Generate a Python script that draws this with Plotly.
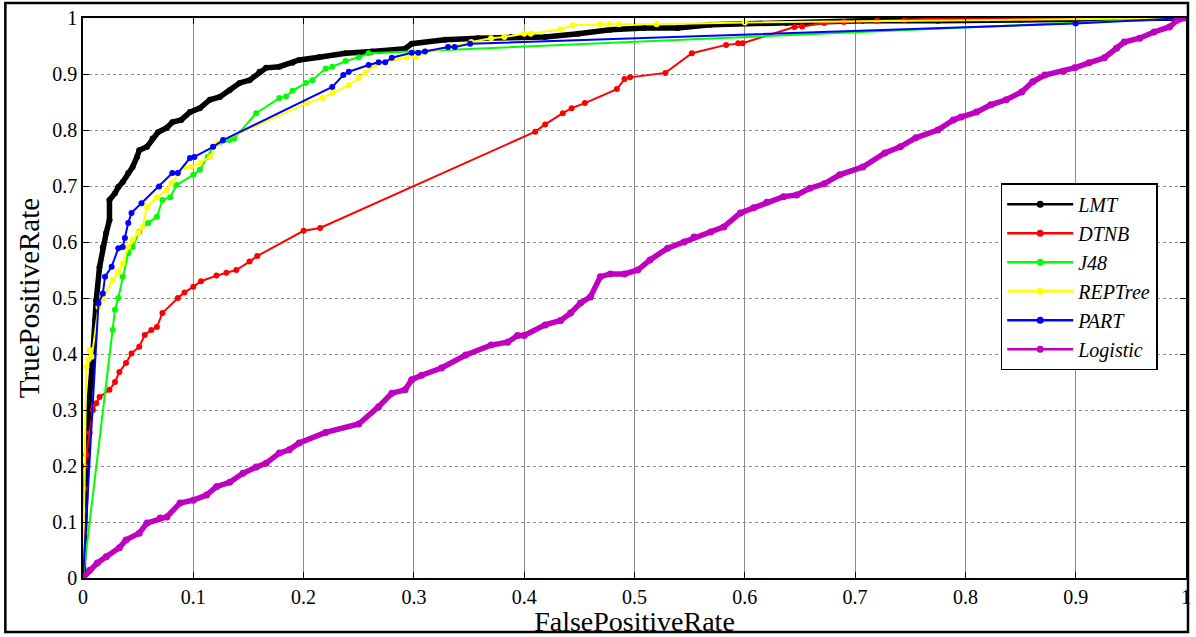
import plotly.graph_objects as go

# ---------------- data ----------------
lmt_fpr = [0.0, 0.002, 0.005, 0.008, 0.009, 0.011, 0.012, 0.015, 0.018, 0.021, 0.024, 0.024, 0.029, 0.032,
           0.036, 0.041, 0.045, 0.049, 0.051, 0.058, 0.063, 0.068, 0.076, 0.081, 0.089, 0.097, 0.106,
           0.115, 0.124, 0.133, 0.142, 0.151, 0.16, 0.166, 0.178, 0.19, 0.196, 0.214, 0.238, 0.262,
           0.292, 0.298, 0.328, 0.358, 0.388, 0.419, 0.449, 0.478, 0.509, 0.539, 0.569, 0.638, 0.707,
           0.775, 0.85, 0.93, 1.0]
lmt_tpr = [0.0, 0.15, 0.3, 0.371, 0.407, 0.461, 0.496, 0.555, 0.591, 0.616, 0.639, 0.675, 0.687, 0.698,
           0.707, 0.723, 0.734, 0.752, 0.764, 0.77, 0.785, 0.796, 0.804, 0.814, 0.818, 0.832, 0.839,
           0.854, 0.859, 0.871, 0.884, 0.889, 0.904, 0.911, 0.913, 0.92, 0.925, 0.93, 0.937, 0.94,
           0.945, 0.954, 0.961, 0.964, 0.966, 0.966, 0.972, 0.979, 0.982, 0.982, 0.988, 0.991, 0.995,
           0.995, 0.997, 1.0, 1.0]

dtnb_fpr = [0.0, 0.0, 0.001, 0.001, 0.001, 0.002, 0.003, 0.006, 0.009, 0.012, 0.015, 0.024, 0.029, 0.033,
            0.039, 0.044, 0.051, 0.056, 0.062, 0.067, 0.072, 0.086, 0.092, 0.1, 0.107, 0.121, 0.13,
            0.139, 0.151, 0.158, 0.2, 0.215, 0.41, 0.419, 0.435, 0.443, 0.455, 0.484, 0.491, 0.496,
            0.528, 0.552, 0.583, 0.594, 0.598, 0.645, 0.652, 0.672, 0.69, 0.72, 0.745, 0.78, 0.82,
            0.86, 0.9, 0.94, 0.97, 1.0]
dtnb_tpr = [0.0, 0.04, 0.08, 0.12, 0.16, 0.2, 0.22, 0.259, 0.3, 0.312, 0.323, 0.336, 0.35, 0.368,
            0.384, 0.401, 0.413, 0.434, 0.443, 0.448, 0.473, 0.5, 0.51, 0.52, 0.53, 0.54, 0.545,
            0.55, 0.565, 0.575, 0.62, 0.625, 0.797, 0.81, 0.83, 0.839, 0.848, 0.873, 0.891, 0.894,
            0.902, 0.937, 0.952, 0.955, 0.955, 0.984, 0.985, 0.991, 0.993, 0.995, 0.997, 0.999, 0.999,
            1.0, 1.0, 1.0, 1.0, 1.0]

j48_fpr = [0.0, 0.027, 0.029, 0.032, 0.036, 0.041, 0.045, 0.051, 0.059, 0.067, 0.072, 0.079, 0.085,
           0.1, 0.106, 0.113, 0.118, 0.133, 0.137, 0.157, 0.178, 0.184, 0.19, 0.202, 0.208, 0.22,
           0.226, 0.238, 0.25, 0.259, 1.0]
j48_tpr = [0.0, 0.443, 0.479, 0.5, 0.538, 0.58, 0.591, 0.618, 0.634, 0.645, 0.675, 0.68, 0.702,
           0.72, 0.729, 0.752, 0.77, 0.782, 0.785, 0.83, 0.857, 0.86, 0.87, 0.884, 0.889, 0.91,
           0.913, 0.923, 0.93, 0.937, 1.0]

rep_fpr = [0.0, 0.003, 0.005, 0.006, 0.008, 0.014, 0.018, 0.027, 0.032, 0.036, 0.041, 0.045, 0.05,
           0.054, 0.058, 0.067, 0.076, 0.08, 0.092, 0.098, 0.106, 0.115, 0.122, 0.203, 0.217, 0.226,
           0.241, 0.25, 0.256, 0.265, 0.293, 0.302, 0.307, 0.334, 0.352, 0.37, 0.382, 0.4, 0.406,
           0.433, 0.444, 0.469, 0.477, 0.486, 0.52, 0.6, 1.0]
rep_tpr = [0.0, 0.377, 0.39, 0.407, 0.395, 0.484, 0.5, 0.532, 0.547, 0.562, 0.591, 0.604, 0.616,
           0.627, 0.663, 0.68, 0.693, 0.705, 0.734, 0.734, 0.741, 0.752, 0.777, 0.848, 0.857, 0.866,
           0.88, 0.893, 0.902, 0.916, 0.93, 0.93, 0.937, 0.948, 0.957, 0.964, 0.966, 0.972, 0.972,
           0.98, 0.987, 0.989, 0.989, 0.989, 0.989, 0.992, 1.0]

part_fpr = [0.0, 0.014, 0.018, 0.02, 0.026, 0.032, 0.036, 0.038, 0.041, 0.044, 0.053, 0.069, 0.081,
            0.086, 0.097, 0.101, 0.118, 0.127, 0.226, 0.236, 0.241, 0.259, 0.268, 0.274, 0.28, 0.298,
            0.304, 0.31, 0.331, 0.337, 0.351, 0.9, 1.0]
part_tpr = [0.0, 0.49, 0.508, 0.538, 0.556, 0.589, 0.591, 0.607, 0.634, 0.652, 0.669, 0.699, 0.723,
            0.723, 0.75, 0.752, 0.77, 0.782, 0.877, 0.898, 0.904, 0.916, 0.921, 0.921, 0.929, 0.938,
            0.938, 0.94, 0.948, 0.948, 0.954, 0.99, 1.0]

log_fpr = [0.0, 0.006, 0.013, 0.021, 0.033, 0.039, 0.051, 0.058, 0.07, 0.076, 0.088, 0.1, 0.112, 0.121,
           0.133, 0.145, 0.157, 0.166, 0.178, 0.187, 0.196, 0.22, 0.25, 0.268, 0.28, 0.292, 0.298,
           0.307, 0.325, 0.347, 0.37, 0.385, 0.394, 0.4, 0.419, 0.433, 0.442, 0.451, 0.46, 0.469,
           0.478, 0.491, 0.503, 0.514, 0.53, 0.545, 0.554, 0.569, 0.581, 0.596, 0.608, 0.62, 0.635,
           0.647, 0.659, 0.672, 0.686, 0.707, 0.727, 0.741, 0.755, 0.775, 0.789, 0.796, 0.81, 0.823,
           0.837, 0.851, 0.861, 0.872, 0.889, 0.899, 0.912, 0.926, 0.937, 0.944, 0.958, 0.971,
           0.985, 0.992, 1.0]
log_tpr = [0.0, 0.014, 0.027, 0.038, 0.054, 0.068, 0.08, 0.098, 0.107, 0.109, 0.134, 0.139, 0.148, 0.163,
           0.171, 0.187, 0.198, 0.205, 0.223, 0.229, 0.241, 0.26, 0.275, 0.306, 0.33, 0.336, 0.354,
           0.362, 0.375, 0.398, 0.416, 0.421, 0.433, 0.433, 0.452, 0.46, 0.473, 0.491, 0.502, 0.538,
           0.543, 0.543, 0.55, 0.568, 0.589, 0.6, 0.609, 0.618, 0.627, 0.652, 0.661, 0.671, 0.681,
           0.684, 0.696, 0.704, 0.72, 0.734, 0.759, 0.77, 0.786, 0.8, 0.818, 0.823, 0.832, 0.845,
           0.854, 0.868, 0.886, 0.898, 0.905, 0.911, 0.92, 0.929, 0.946, 0.957, 0.964, 0.975,
           0.984, 0.996, 1.0]

tick_vals = [0, 0.1, 0.2, 0.3, 0.4, 0.5, 0.6, 0.7, 0.8, 0.9, 1.0]
tick_text = ["0", "0.1", "0.2", "0.3", "0.4", "0.5", "0.6", "0.7", "0.8", "0.9", "1"]

series = [
    ("LMT", lmt_fpr, lmt_tpr, "#000000", 5.5, 6),
    ("DTNB", dtnb_fpr, dtnb_tpr, "#ff0000", 2, 6),
    ("J48", j48_fpr, j48_tpr, "#00ff00", 2, 6),
    ("REPTree", rep_fpr, rep_tpr, "#ffff00", 2, 6),
    ("PART", part_fpr, part_tpr, "#0000ff", 2, 6),
    ("Logistic", log_fpr, log_tpr, "#bf00bf", 5.5, 7),
]

FONT = "Liberation Serif"
fig = go.Figure()
for name, xs, ys, col, lw, ms in series:
    fig.add_trace(go.Scatter(
        x=xs, y=ys, name=name, mode="lines+markers", showlegend=False, legendgroup=name,
        line=dict(color=col, width=lw),
        marker=dict(color=col, size=ms, symbol="circle"),
    ))
# legend entries (thin line + dot, as in the reference legend)
for name, xs, ys, col, lw, ms in series:
    fig.add_trace(go.Scatter(
        x=[None], y=[None], name=name, mode="lines+markers", legendgroup=name,
        line=dict(color=col, width=2.5),
        marker=dict(color=col, size=7, symbol="circle"),
    ))

fig.update_layout(
    width=1196, height=637,
    margin=dict(l=83, r=5, t=18, b=59),
    paper_bgcolor="white", plot_bgcolor="white",
    font=dict(family=FONT, color="black", size=20),
    showlegend=True,
    legend=dict(
        x=0.832, y=0.705, xanchor="left", yanchor="top",
        bgcolor="white", bordercolor="black", borderwidth=1.5,
        font=dict(family=FONT, size=20, color="black", style="italic"),
        tracegroupgap=0, itemwidth=66, traceorder="normal",
    ),
    xaxis=dict(
        range=[0, 1], tickvals=tick_vals, ticktext=tick_text,
        showgrid=True, gridcolor="#8c8c8c", gridwidth=1, griddash="solid",
        showline=True, linecolor="black", linewidth=1.5, mirror="ticks",
        ticks="inside", ticklen=6, tickcolor="black",
        zeroline=False,
        title=dict(text="FalsePositiveRate", font=dict(family=FONT, size=28), standoff=2),
        tickfont=dict(family=FONT, size=20),
    ),
    yaxis=dict(
        range=[0, 1], tickvals=tick_vals, ticktext=tick_text,
        showgrid=True, gridcolor="#8c8c8c", gridwidth=1, griddash="dot",
        showline=True, linecolor="black", linewidth=1.5, mirror="ticks",
        ticks="inside", ticklen=6, tickcolor="black",
        zeroline=False,
        title=dict(text="TruePositiveRate", font=dict(family=FONT, size=29), standoff=4),
        tickfont=dict(family=FONT, size=20),
    ),
)

# outer frame around the whole figure
fig.add_shape(type="rect", xref="paper", yref="paper",
              x0=(5 - 83) / 1108, x1=(1193 - 83) / 1108,
              y0=(578 - 632) / 560, y1=(578 - 3) / 560,
              line=dict(color="black", width=2.5), fillcolor="rgba(0,0,0,0)", layer="above")

fig.write_html("out.html")
